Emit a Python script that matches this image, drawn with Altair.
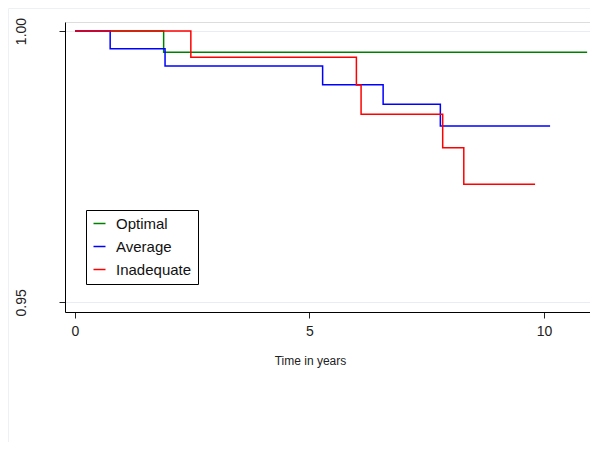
import altair as alt
import pandas as pd

groups = ["Optimal", "Average", "Inadequate"]
colors = ["#008000", "#0000ff", "#ff0000"]

optimal_t = [0, 1.89, 10.92]
optimal_s = [1.0, 0.9961, 0.9961]

average_t = [0, 0.75, 1.92, 5.28, 6.57, 7.79, 10.13]
average_s = [1.0, 0.99674, 0.99355, 0.99011, 0.98649, 0.98249, 0.98249]

inadequate_t = [0, 2.47, 6.0, 6.1, 7.84, 8.29, 9.81]
inadequate_s = [1.0, 0.99515, 0.99005, 0.98465, 0.97849, 0.97175, 0.97175]

x_ticks = [0, 5, 10]
y_ticks = [0.95, 1.0]

series = [(groups[0], optimal_t, optimal_s),
          (groups[1], average_t, average_s),
          (groups[2], inadequate_t, inadequate_s)]

xscale = alt.Scale(domain=[-0.2132, 10.981], nice=False, zero=False)
yscale = alt.Scale(domain=[0.94821, 1.00166], nice=False, zero=False)
cscale = alt.Scale(domain=groups, range=colors)

frame = alt.Chart(pd.DataFrame({"a": [0]})).mark_rect(
    filled=False, stroke="#eef1f4", strokeWidth=1
).encode(x=alt.value(-56.5), x2=alt.value(560), y=alt.value(-13.5), y2=alt.value(460))

layers = [frame]
for i, (g, t, s) in enumerate(series):
    df = pd.DataFrame({"t": t, "s": s, "g": [g] * len(t)})
    x_axis = alt.Axis(values=x_ticks, title="Time in years", grid=False, tickSize=6,
                      labelFontSize=14, labelFont="Liberation Sans", labelColor="#222",
                      labelPadding=6, tickColor="#222", domainColor="#000",
                      titleFontSize=12, titleFont="Liberation Sans", titleFontWeight="normal",
                      titleColor="#222", titleX=245, titleY=52, titleAnchor="start",
                      titleAlign="center", titleBaseline="alphabetic")
    y_axis = alt.Axis(values=y_ticks, title=None, format=".2f", grid=True,
                      gridColor="#e6eef2", gridWidth=1, tickSize=6,
                      labelFontSize=14, labelFont="Liberation Sans", labelColor="#222",
                      labelAngle=270, labelAlign="center", labelBaseline="alphabetic",
                      labelPadding=34, tickColor="#222", domainColor="#000")
    c = alt.Chart(df).mark_line(interpolate="step-after", strokeWidth=1.5).encode(
        x=alt.X("t:Q", scale=xscale, axis=x_axis),
        y=alt.Y("s:Q", scale=yscale, axis=y_axis),
        color=alt.Color("g:N", scale=cscale, legend=alt.Legend(
            title=None, orient="none", legendX=21, legendY=188,
            strokeColor="#000", fillColor="#fff", padding=6, cornerRadius=0,
            symbolType="stroke", symbolSize=144, symbolStrokeWidth=1.5,
            labelFontSize=15, labelFont="Liberation Sans", labelColor="#111",
            labelOffset=9, rowPadding=7, labelLimit=200)),
    )
    layers.append(c)

chart = alt.layer(*layers).properties(
    width=525, height=290,
    autosize=alt.AutoSizeParams(type="none"),
    padding={"left": 57, "top": 14, "right": 0, "bottom": 130},
).configure_view(stroke=None).configure(background="#ffffff")

chart.save("out.html", embed_options={"renderer": "svg", "actions": False})
